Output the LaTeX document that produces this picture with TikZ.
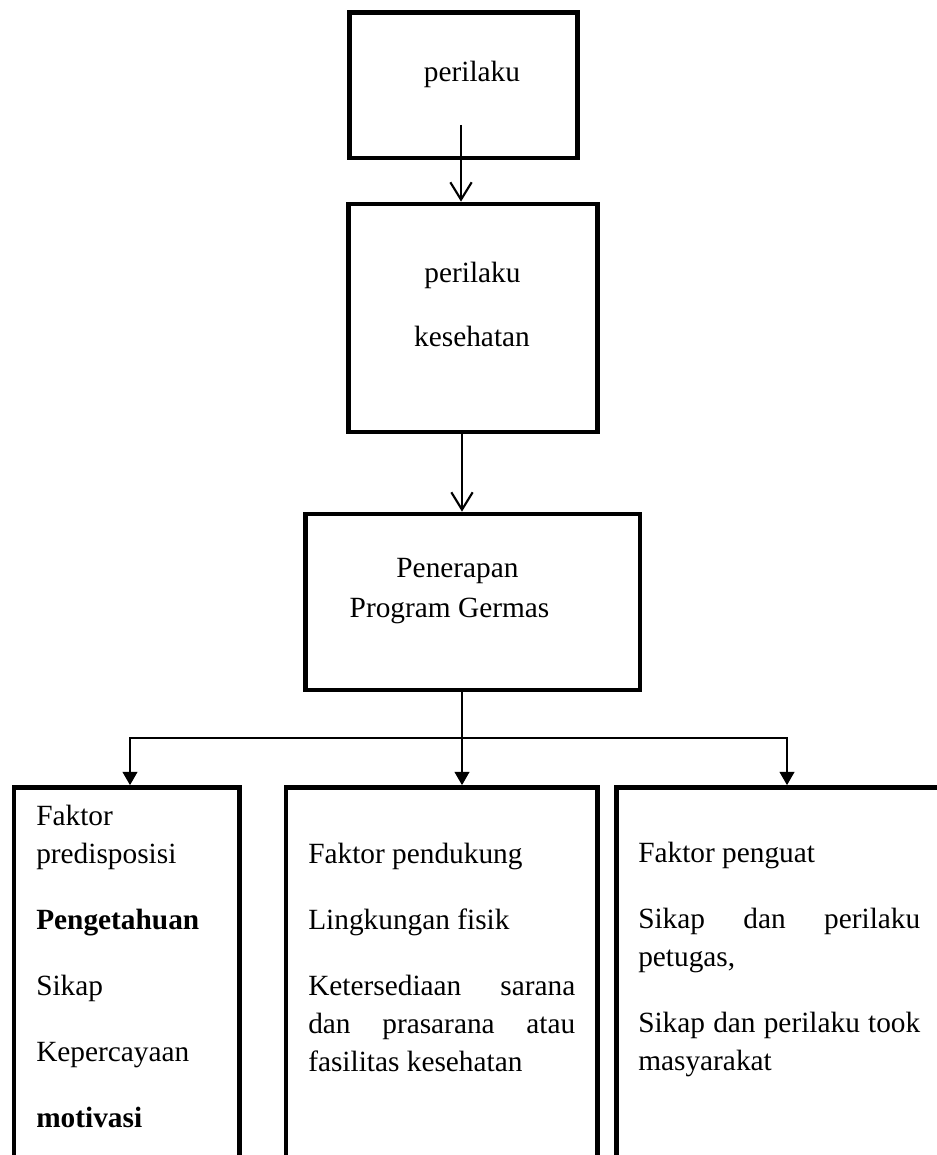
\documentclass[tikz,border=0pt]{standalone}
\usepackage{fontspec}
\setmainfont{Liberation Serif}
\usetikzlibrary{arrows.meta}

\begin{document}
\begin{tikzpicture}[x=0.75pt, y=-0.75pt,
  every node/.style={font=\fontsize{22}{28.5}\selectfont, inner sep=0pt},
  kotak/.style={draw, line width=3.5pt, rectangle},
  panahbuka/.style={line width=1.6pt, -{Straight Barb[width=16pt,length=13pt,line width=1.6pt]}},
  panah/.style={line width=1.6pt, -{Triangle[width=11pt,length=10pt]}},
  isi/.style={anchor=base west, align=justify}]
\useasboundingbox (0,0) rectangle (937,1155);
\clip (0,0) rectangle (937,1155);
% kotak atas
\node[kotak, minimum width=171pt, minimum height=109.1pt] (b1) at (463.5,85.25) {};
\node[kotak, minimum width=186.75pt, minimum height=171pt] (b2) at (473,318) {};
\node[kotak, minimum width=250.9pt, minimum height=132pt] (b3) at (472.75,602) {};
\node[anchor=base] (t1) at (472,82) {perilaku};
\node[anchor=base] (t2a) at (472.5,283) {perilaku};
\node[anchor=base] (t2b) at (472,346) {kesehatan};
\node[anchor=base] (t3a) at (457.5,577) {Penerapan};
\node[anchor=base] (t3b) at (449.5,617) {Program Germas};
% kotak bawah (terpotong di tepi)
\node[kotak, minimum width=169.1pt, minimum height=300pt] (b4) at (126.75,987.5) {};
\node[kotak, minimum width=233.6pt, minimum height=300pt] (b5) at (441.75,987.5) {};
\node[kotak, minimum width=257.6pt, minimum height=300pt] (b6) at (788.25,987.5) {};
\node[isi, align=left, text width=160pt] (t4) at (36,825)
  {Faktor\\ predisposisi\\[21pt] \textbf{Pengetahuan}\\[21pt] Sikap\\[21pt] Kepercayaan\\[21pt] \textbf{motivasi}};
\node[isi, text width=200.25pt] (t5) at (308,863)
  {Faktor pendukung\\[21pt] Lingkungan fisik\\[21pt] Ketersediaan sarana\linebreak dan prasarana atau\linebreak fasilitas kesehatan};
\node[isi, text width=211.5pt] (t6) at (638,862)
  {Faktor penguat\\[21pt] Sikap dan perilaku\linebreak petugas,\\[21pt] Sikap dan perilaku took\linebreak masyarakat};
% panah
\coordinate (a1) at (461,125);
\coordinate (a2) at (462,0);
\coordinate (cab) at (462,738);
\coordinate (kiri) at (130,738);
\coordinate (kanan) at (787,738);
\draw[panahbuka] (a1) -- (a1 |- b2.north);
\draw[panahbuka] (a2 |- b2.south) -- (a2 |- b3.north);
\draw[panah] (cab |- b3.south) -- (cab |- b5.north);
\draw[line width=1.6pt, {Triangle[width=11pt,length=10pt]}-{Triangle[width=11pt,length=10pt]}]
  (kiri |- b4.north) -- (kiri) -- (kanan) -- (kanan |- b6.north);
\end{tikzpicture}
\end{document}
